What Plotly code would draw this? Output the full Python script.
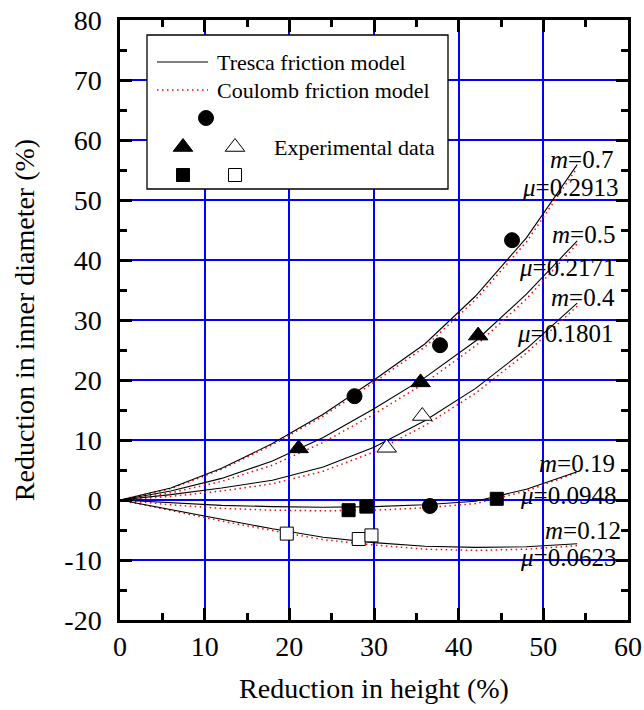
import plotly.graph_objects as go

# ---------------- data ----------------
x_model = [0, 6, 12, 18, 24, 30, 36, 42, 48, 54]

tresca_m07 = [0, 2.0, 5.3, 9.4, 14.3, 20.0, 26.0, 34.0, 43.7, 55.9]
tresca_m05 = [0, 1.5, 3.6, 6.5, 10.4, 15.2, 20.4, 26.5, 34.3, 43.2]
tresca_m04 = [0, 0.9, 2.0, 3.3, 5.5, 8.8, 13.2, 18.6, 25.2, 32.8]
tresca_m019 = [0, -0.5, -0.9, -1.1, -1.2, -1.1, -0.8, -0.2, 1.8, 4.7]
tresca_m012 = [0, -1.6, -3.2, -4.8, -6.2, -7.1, -7.7, -7.9, -7.8, -7.3]

coulomb_u02913 = [0, 1.9, 5.1, 9.2, 14.0, 19.6, 25.5, 33.4, 43.0, 55.4]
coulomb_u02171 = [0, 1.2, 3.1, 5.8, 9.6, 14.3, 19.5, 25.7, 33.5, 42.7]
coulomb_u01801 = [0, 0.6, 1.5, 2.7, 4.8, 8.0, 12.4, 17.8, 24.5, 32.3]
coulomb_u00948 = [0, -0.8, -1.4, -1.7, -1.8, -1.7, -1.3, -0.6, 1.5, 4.6]
coulomb_u00623 = [0, -1.8, -3.5, -5.1, -6.6, -7.5, -8.2, -8.4, -8.2, -7.6]

circ_x = [27.7, 37.8, 46.3, 36.6]
circ_y = [17.3, 25.8, 43.3, -1.0]
tri_f_x = [21.1, 35.5, 42.3]
tri_f_y = [8.6, 19.6, 27.4]
tri_o_x = [31.5, 35.7]
tri_o_y = [8.7, 14.0]
sq_f_x = [27.0, 29.1, 44.5]
sq_f_y = [-1.7, -1.1, 0.2]
sq_o_x = [19.7, 28.2, 29.7]
sq_o_y = [-5.6, -6.5, -5.9]

curve_labels = ["<i>m</i>=0.7", "<i>μ</i>=0.2913", "<i>m</i>=0.5", "<i>μ</i>=0.2171",
                "<i>m</i>=0.4", "<i>μ</i>=0.1801", "<i>m</i>=0.19", "<i>μ</i>=0.0948",
                "<i>m</i>=0.12", "<i>μ</i>=0.0623"]

x_ticks = [0, 10, 20, 30, 40, 50, 60]
y_ticks = [-20, -10, 0, 10, 20, 30, 40, 50, 60, 70, 80]

# ---------------- layout helpers (pixel -> data) ----------------
L, R, T, B = 120, 628, 20, 620
XMIN, XMAX, YMIN, YMAX = 0, 60, -20, 80


def px_x(p):
    return XMIN + (p - L) / (R - L) * (XMAX - XMIN)


def px_y(p):
    return YMAX - (p - T) / (B - T) * (YMAX - YMIN)


FONT = "Liberation Serif"
DOT = "1.5px,3.5px"

fig = go.Figure()

tresca_sets = [tresca_m07, tresca_m05, tresca_m04, tresca_m019, tresca_m012]
coulomb_sets = [coulomb_u02913, coulomb_u02171, coulomb_u01801, coulomb_u00948, coulomb_u00623]

for ys in coulomb_sets:
    fig.add_trace(go.Scatter(x=x_model, y=ys, mode="lines",
                             line=dict(color="red", width=1.5, dash=DOT)))
for ys in tresca_sets:
    fig.add_trace(go.Scatter(x=x_model, y=ys, mode="lines",
                             line=dict(color="black", width=1.1)))

mk_line = dict(color="black", width=1)
fig.add_trace(go.Scatter(x=circ_x, y=circ_y, mode="markers",
                         marker=dict(symbol="circle", size=15, color="black", line=mk_line)))
fig.add_trace(go.Scatter(x=tri_f_x, y=tri_f_y, mode="markers",
                         marker=dict(symbol="triangle-up", size=17, color="black", line=mk_line)))
fig.add_trace(go.Scatter(x=tri_o_x, y=tri_o_y, mode="markers",
                         marker=dict(symbol="triangle-up", size=17, color="white", line=mk_line)))
fig.add_trace(go.Scatter(x=sq_f_x, y=sq_f_y, mode="markers",
                         marker=dict(symbol="square", size=13, color="black", line=mk_line)))
fig.add_trace(go.Scatter(x=sq_o_x, y=sq_o_y, mode="markers",
                         marker=dict(symbol="square", size=13, color="white", line=mk_line)))

# ---------------- custom legend box ----------------
fig.add_shape(type="rect", xref="x", yref="y", layer="between",
              x0=px_x(147), x1=px_x(448), y0=px_y(35), y1=px_y(189),
              fillcolor="white", line=dict(color="black", width=1.3))
fig.add_shape(type="line", xref="x", yref="y", layer="above",
              x0=px_x(157), x1=px_x(208), y0=px_y(62), y1=px_y(62),
              line=dict(color="black", width=1.1))
fig.add_shape(type="line", xref="x", yref="y", layer="above",
              x0=px_x(157), x1=px_x(208), y0=px_y(90), y1=px_y(90),
              line=dict(color="red", width=1.3, dash=DOT))
fig.add_annotation(x=px_x(215), y=px_y(62), text="Tresca friction model", showarrow=False,
                   xanchor="left", yanchor="middle", font=dict(family=FONT, size=22, color="black"))
fig.add_annotation(x=px_x(215), y=px_y(90), text="Coulomb friction model", showarrow=False,
                   xanchor="left", yanchor="middle", font=dict(family=FONT, size=22, color="black"))
fig.add_annotation(x=px_x(272), y=px_y(147), text="Experimental data", showarrow=False,
                   xanchor="left", yanchor="middle", font=dict(family=FONT, size=22, color="black"))

leg_specs = [
    ("circle", 15, "black", 206, 118),
    ("triangle-up", 17, "black", 183, 147),
    ("triangle-up", 17, "white", 235, 147),
    ("square", 13, "black", 183, 175),
    ("square", 13, "white", 235, 175),
]
for sym, sz, col, px, py in leg_specs:
    fig.add_trace(go.Scatter(x=[px_x(px)], y=[px_y(py)], mode="markers",
                             marker=dict(symbol=sym, size=sz, color=col, line=mk_line)))

# ---------------- curve labels ----------------
label_pos = [(615, 159), (620, 187), (617, 234), (617, 267), (617, 297),
             (615, 333), (617, 463), (618, 495), (623, 530), (618, 557)]
for txt, (px, py) in zip(curve_labels, label_pos):
    fig.add_annotation(x=px_x(px), y=px_y(py), text=txt, showarrow=False,
                       xanchor="right", yanchor="middle",
                       font=dict(family=FONT, size=25, color="black"))

axis_common = dict(
    showline=True, linecolor="black", linewidth=2.5, mirror="ticks",
    ticks="inside", ticklen=12, tickwidth=2.5, tickcolor="black",
    showgrid=True, gridcolor="#0000ff", gridwidth=1.5, zeroline=False,
    automargin=False,
    tickfont=dict(family=FONT, size=28, color="black"),
    minor=dict(ticks="inside", ticklen=7, tickwidth=2.5, tickcolor="black", showgrid=False),
)

fig.update_xaxes(range=[XMIN, XMAX], tickvals=x_ticks, ticktext=[str(v) for v in x_ticks],
                 minor_dtick=5, minor_tick0=0, ticklabelstandoff=0,
                 title=dict(text="Reduction in height (%)", standoff=18,
                            font=dict(family=FONT, size=28, color="black")),
                 **axis_common)
fig.update_yaxes(range=[YMIN, YMAX], tickvals=y_ticks, ticktext=[str(v) for v in y_ticks],
                 minor_dtick=5, minor_tick0=0, ticklabelstandoff=10,
                 title=dict(text="Reduction in inner diameter (%)", standoff=22,
                            font=dict(family=FONT, size=28, color="black")),
                 **axis_common)

fig.update_layout(
    width=644, height=710,
    margin=dict(l=L, r=644 - R, t=T, b=710 - B),
    paper_bgcolor="white", plot_bgcolor="white",
    showlegend=False,
    font=dict(family=FONT, color="black"),
)

fig.write_html("out.html")
